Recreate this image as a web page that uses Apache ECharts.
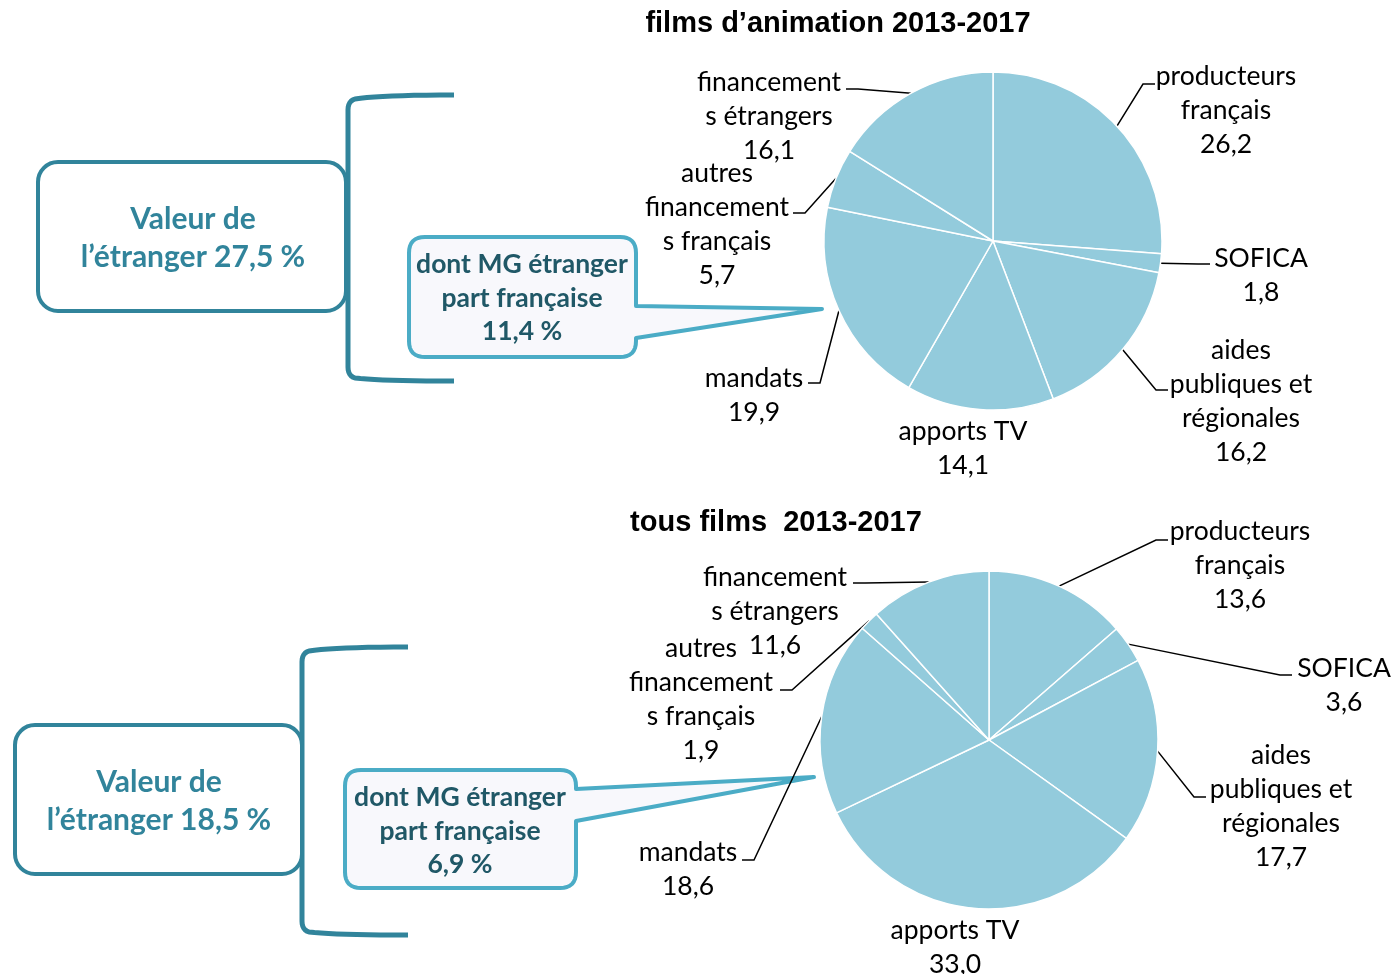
<!DOCTYPE html>
<html>
<head>
<meta charset="utf-8">
<script src="https://cdn.jsdelivr.net/npm/echarts@6/dist/echarts.min.js"></script>
<style>
  html, body { margin: 0; padding: 0; background: #fff; }
  #chart { width: 1398px; height: 974px; }
</style>
</head>
<body>
<div id="chart"></div>
<script>
// categories, as wrapped in the picture
const categories = [
  'producteurs\nfrançais',
  'SOFICA',
  'aides\npubliques et\nrégionales',
  'apports TV',
  'mandats',
  'autres\nfinancement\ns français',
  'financement\ns étrangers'
];
const animValues = [26.2, 1.8, 16.2, 14.1, 19.9, 5.7, 16.1];
const allValues = [13.6, 3.6, 17.7, 33.0, 18.6, 1.9, 11.6];

const titles = ['films d’animation 2013-2017', 'tous films  2013-2017'];
const foreignShare = ['27,5 %', '18,5 %'];
const mgShare = ['11,4 %', '6,9 %'];

// label placement (text centre x, top y) and leader line end, per pie
const labelPos = [
  [[1226, 59], [1261, 241], [1241, 333], [963, 414], [754, 361], [717, 156], [769, 65]],
  [[1240, 514], [1344, 651], [1281, 738], [955, 913], [688, 835], [701, 631], [775, 560]]
];
const lineEnd = [
  [[1155, 84], [1210, 264], [1168, 390], null, [808, 383], [793, 213], [846, 89]],
  [[1168, 540], [1292, 675], [1206, 797], null, [742, 860], [780, 690], [853, 583]]
];
const pieCenter = [[993, 241], [989, 740]];
const pieRadius = 169;

const SLICE = '#93cbdc';
const TEAL = '#31849b';
const CALLOUT = '#4bacc6';
const CALLOUT_TXT = '#205867';

const fmt = v => v.toFixed(1).replace('.', ',');

function makeData(values) {
  return values.map((v, i) => ({
    name: categories[i],
    value: v,
    labelLine: { show: i !== 3 }
  }));
}

function makeLayout(p) {
  return function (params) {
    const i = params.dataIndex;
    const pos = labelPos[p][i];
    const res = { x: pos[0], y: pos[1], align: 'center', verticalAlign: 'top' };
    const end = lineEnd[p][i];
    if (end && params.labelLinePoints) {
      const a = params.labelLinePoints[0];
      const dir = end[0] < pieCenter[p][0] ? 12 : -12;
      res.labelLinePoints = [a, [end[0] + dir, end[1]], end];
    }
    return res;
  };
}

function makePie(p, values) {
  return {
    type: 'pie',
    center: pieCenter[p],
    radius: pieRadius,
    startAngle: 90,
    clockwise: true,
    avoidLabelOverlap: false,
    animation: false,
    silent: true,
    itemStyle: { color: SLICE, borderColor: '#fff', borderWidth: 1.5 },
    label: {
      show: true,
      position: 'outside',
      formatter: d => d.name + '\n' + fmt(d.value),
      fontFamily: 'Lato',
      fontSize: 26.5,
      lineHeight: 34,
      color: '#000'
    },
    labelLine: {
      show: true,
      length: 10,
      length2: 10,
      lineStyle: { color: '#000', width: 1.5 }
    },
    labelLayout: makeLayout(p),
    data: makeData(values)
  };
}

// sample a quadratic curve into points
function quad(p0, c, p1, n) {
  const pts = [];
  for (let k = 0; k <= n; k++) {
    const t = k / n, u = 1 - t;
    pts.push([u * u * p0[0] + 2 * u * t * c[0] + t * t * p1[0],
              u * u * p0[1] + 2 * u * t * c[1] + t * t * p1[1]]);
  }
  return pts;
}

// callout box with a pointer towards the pie
function calloutPoints(x, y, w, h, r, p1, tip, p2) {
  const R = x + w, B = y + h;
  return [].concat(
    quad([x, y + r], [x, y], [x + r, y], 8),
    quad([R - r, y], [R, y], [R, y + r], 8),
    [[R, p1], tip, [R, p2]],
    quad([R, B - r], [R, B], [R - r, B], 8),
    quad([x + r, B], [x, B], [x, B - r], 8)
  );
}

function bracketPoints(vx, top, bottom, armX) {
  return [].concat(
    quad([armX, top], [vx + 32, top], [vx + 7, top + 4], 10),
    quad([vx + 7, top + 4], [vx, top + 6], [vx, top + 15], 6),
    quad([vx, bottom - 14], [vx, bottom - 5], [vx + 7, bottom - 3], 6),
    quad([vx + 7, bottom - 3], [vx + 32, bottom], [armX, bottom], 10)
  );
}

function textEl(txt, x, y, size, color) {
  return {
    type: 'text',
    style: {
      text: txt, x: x, y: y,
      align: 'center', verticalAlign: 'middle',
      fontFamily: 'Lato', fontWeight: 'bold', fontSize: size,
      fill: color
    }
  };
}

function annotation(p, box, brk, call, tip, p1, p2, bigTxt, callTxt) {
  return [
    { type: 'polyline', shape: { points: bracketPoints(brk[0], brk[1], brk[2], brk[3]) },
      style: { fill: null, stroke: TEAL, lineWidth: 5, lineJoin: 'round' } },
    { type: 'rect', shape: { x: box[0], y: box[1], width: box[2], height: box[3], r: 20 },
      style: { fill: '#fff', stroke: TEAL, lineWidth: 4 } },
    textEl('Valeur de', bigTxt[0], bigTxt[1], 30, TEAL),
    textEl('l’étranger ' + foreignShare[p], bigTxt[0], bigTxt[1] + 38, 30, TEAL),
    { type: 'polygon', shape: { points: calloutPoints(call[0], call[1], call[2], call[3], 16, p1, tip, p2) },
      style: { fill: '#f8f8fc', stroke: CALLOUT, lineWidth: 4, lineJoin: 'round' } },
    textEl('dont MG étranger', callTxt[0], callTxt[1], 26.5, CALLOUT_TXT),
    textEl('part française', callTxt[0], callTxt[1] + 34, 26.5, CALLOUT_TXT),
    textEl(mgShare[p], callTxt[0], callTxt[1] + 67, 26.5, CALLOUT_TXT)
  ];
}

const chart = echarts.init(document.getElementById('chart'));
chart.setOption({
  backgroundColor: '#fff',
  animation: false,
  title: [
    { text: titles[0], left: 838, top: 9, textAlign: 'center', padding: 0,
      textStyle: { fontFamily: 'Liberation Sans', fontWeight: 'bold', fontSize: 29, color: '#000' } },
    { text: titles[1], left: 776, top: 508, textAlign: 'center', padding: 0,
      textStyle: { fontFamily: 'Liberation Sans', fontWeight: 'bold', fontSize: 29, color: '#000' } }
  ],
  graphic: [].concat(
    annotation(0, [38, 162, 308, 149], [348, 95, 381, 454], [409, 237, 227, 120],
      [822, 309], 306, 338, [193, 219], [522, 264]),
    annotation(1, [15, 725, 287, 149], [302, 647, 935, 408], [345, 770, 231, 118],
      [814, 777], 789, 821, [159, 782], [460, 797])
  ),
  series: [makePie(0, animValues), makePie(1, allValues)]
});
</script>
</body>
</html>
